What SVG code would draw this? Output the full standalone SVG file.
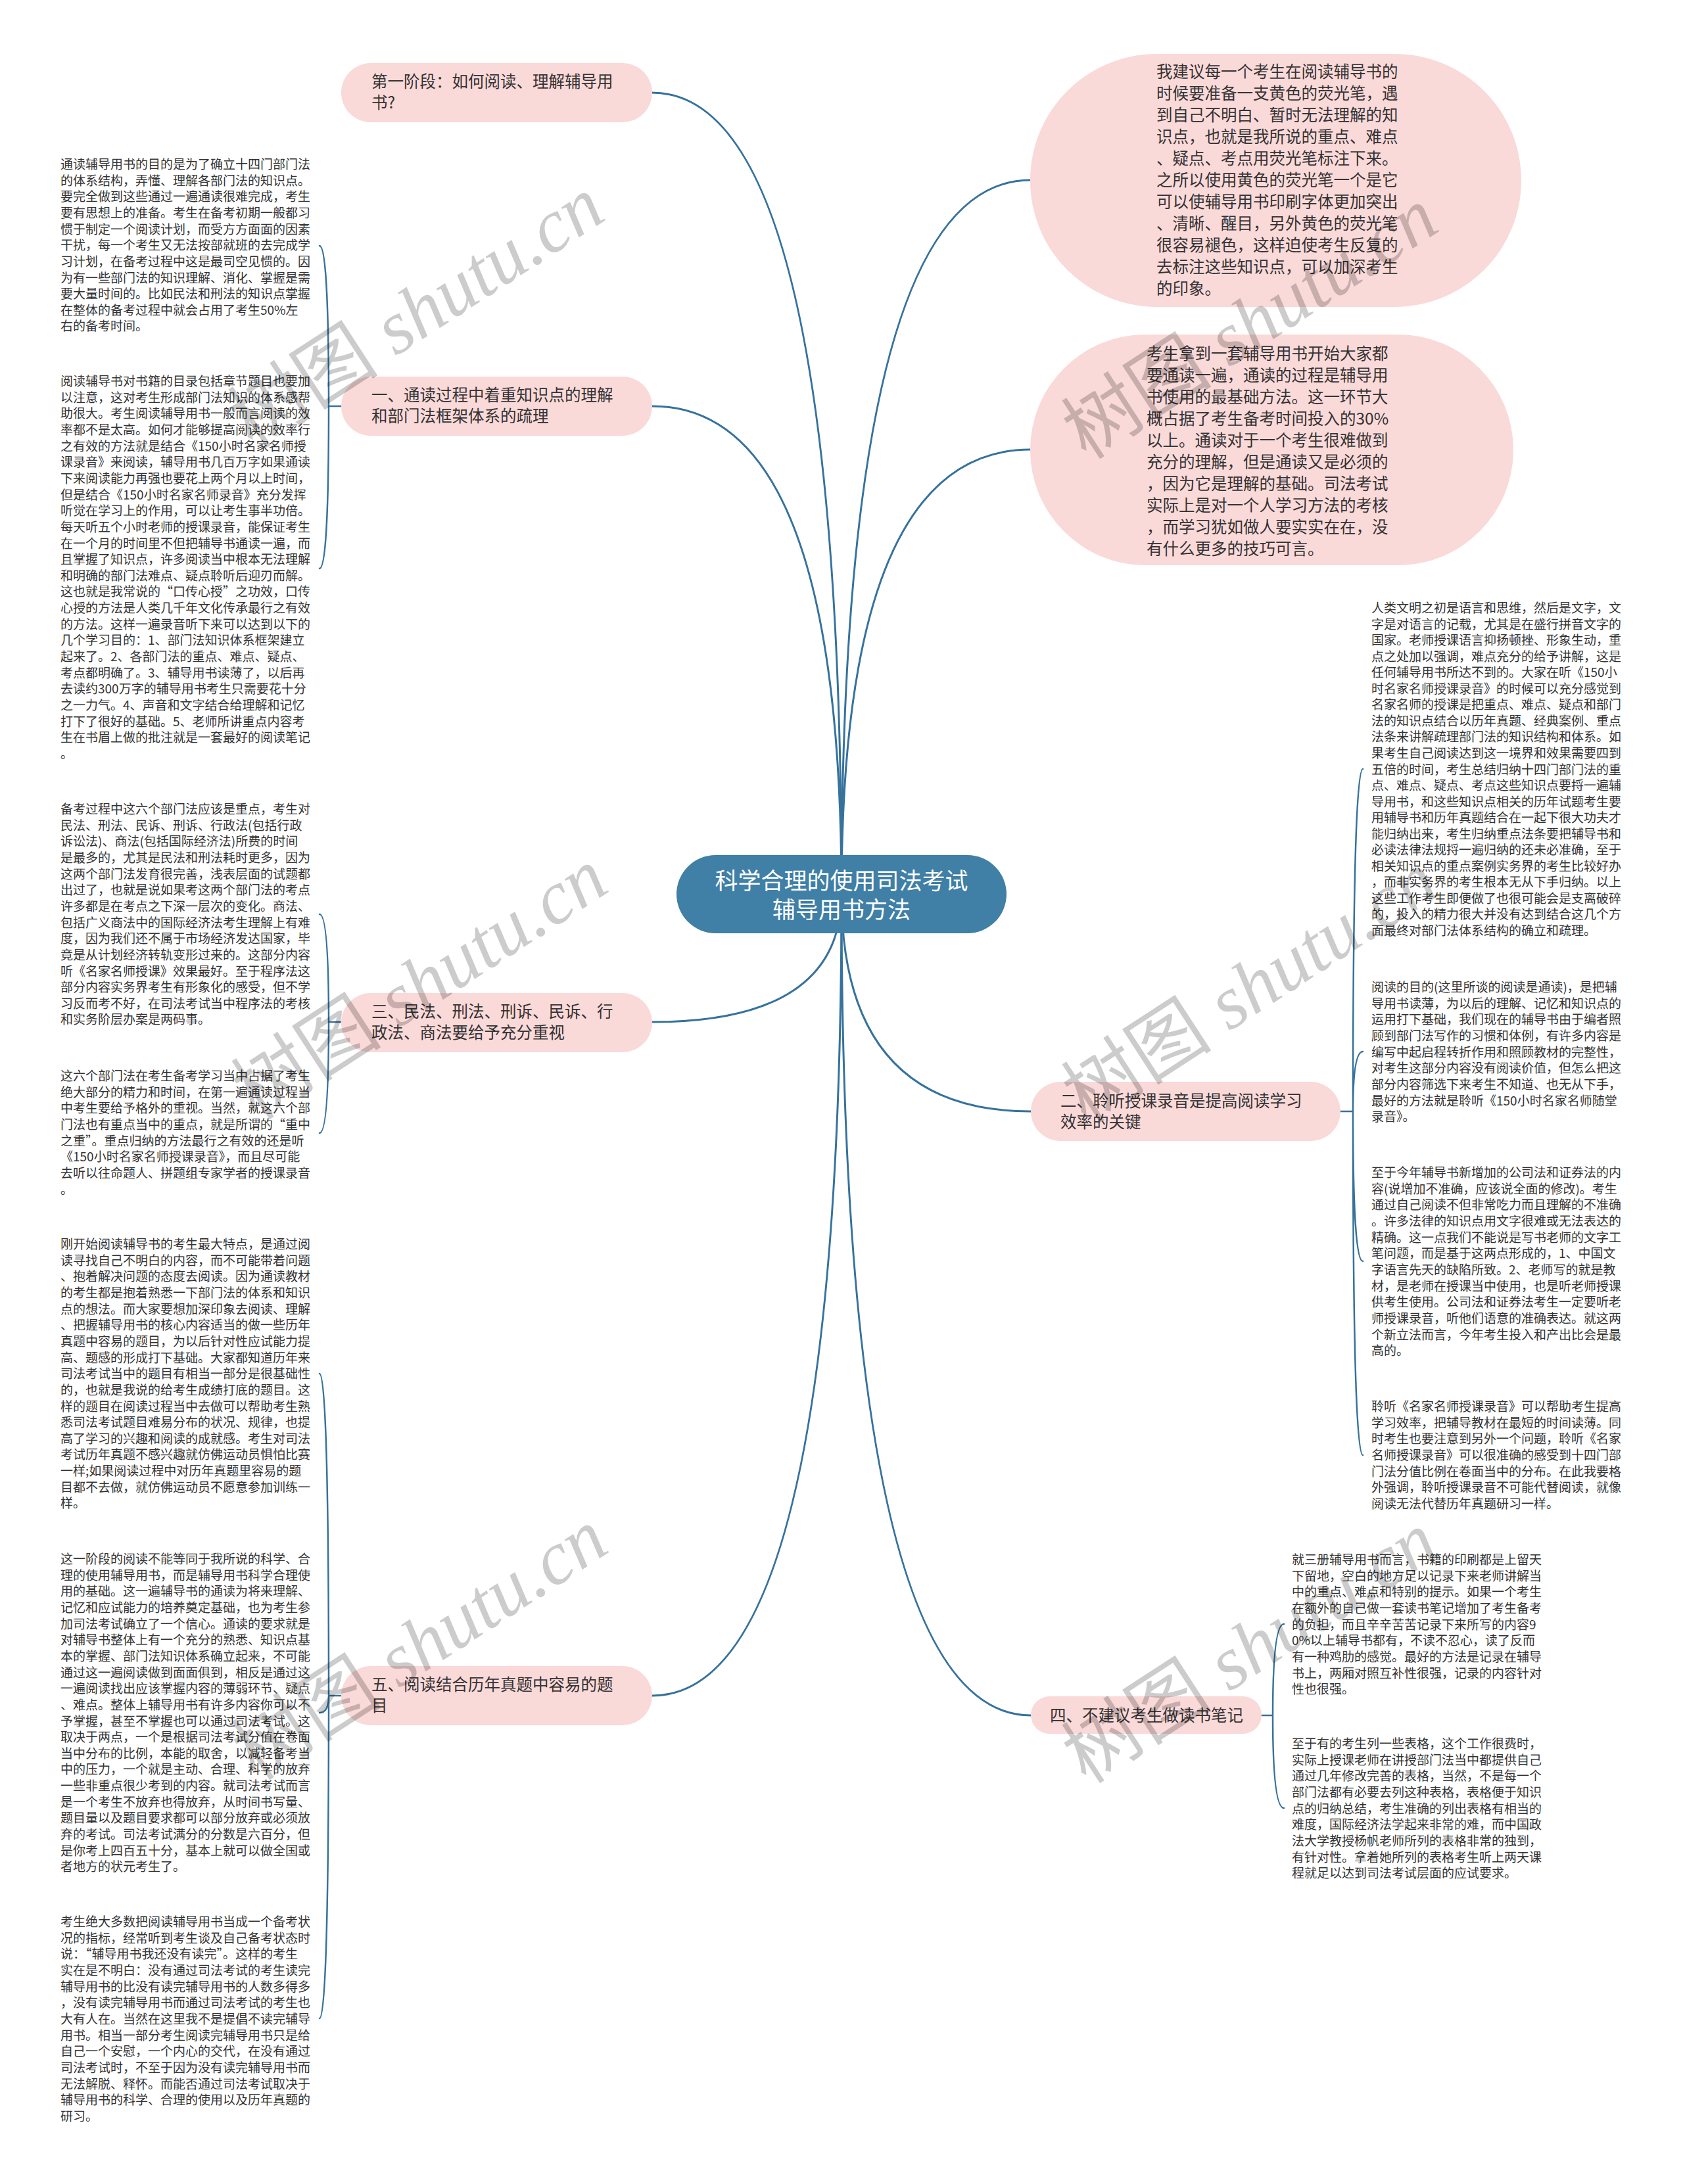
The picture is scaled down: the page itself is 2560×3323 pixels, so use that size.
<svg xmlns="http://www.w3.org/2000/svg" width="2560" height="3323" viewBox="0 0 2560 3323">
<defs>
<style>
.bg{fill:#ffffff}
.conn{fill:none;stroke:#36729c;stroke-width:3;stroke-linecap:round}
.brk{fill:none;stroke:#36729c;stroke-width:2.5;stroke-linecap:round}
.pill{fill:#fad9d9}
.root{fill:#407fa6}
.lbl{font-family:'Noto Sans CJK SC','Noto Sans',sans-serif;font-size:24.5px;fill:#333333}
.rootlbl{font-family:'Noto Sans CJK SC','Noto Sans',sans-serif;font-size:35px;fill:#ffffff;text-anchor:middle}
.leaf{font-family:'Noto Sans CJK SC','Noto Sans',sans-serif;font-size:19px;fill:#333333}
.wm{fill:#000000;fill-opacity:0.2;font-size:115px}
</style>
</defs>
<rect class="bg" x="0" y="0" width="2560" height="3323"/>

<g id="connectors">
<path class="conn" d="M1280,1360 Q1280,141 992,141"/>
<path class="conn" d="M1280,1360 Q1280,618 992,618"/>
<path class="conn" d="M1280,1360 Q1280,1555 992,1555"/>
<path class="conn" d="M1280,1360 Q1280,2580 992,2580"/>
<path class="conn" d="M1280,1360 Q1280,274 1567,274"/>
<path class="conn" d="M1280,1360 Q1280,684 1567,684"/>
<path class="conn" d="M1280,1360 Q1280,1691 1568,1691"/>
<path class="conn" d="M1280,1360 Q1280,2610 1568,2610"/>
<path class="brk" d="M519,618 L500,618 M500,618 Q500,374 486,374 M500,618 Q500,865 486,865"/>
<path class="brk" d="M519,1555 L500,1555 M500,1555 Q500,1391 486,1391 M500,1555 Q500,1724 486,1724"/>
<path class="brk" d="M519,2580 L500,2580 M500,2580 Q500,2090 486,2090 M500,2580 Q500,2606 486,2606 M500,2580 Q500,3071 486,3071"/>
<path class="brk" d="M2039,1691 L2058,1691 M2058,1691 Q2058,1170 2073,1170 M2058,1691 Q2058,1600 2073,1600 M2058,1691 Q2058,1919 2073,1919 M2058,1691 Q2058,2214 2073,2214"/>
<path class="brk" d="M1919,2610 L1936,2610 M1936,2610 Q1936,2471 1953,2471 M1936,2610 Q1936,2751 1953,2751"/>
</g>

<g id="root">
<rect class="root" x="1029" y="1301" width="502" height="119" rx="59.5"/>
<text class="rootlbl" x="1280" y="1353">科学合理的使用司法考试<tspan x="1280" dy="44">辅导用书方法</tspan></text>
</g>

<g id="n-stage1">
<rect class="pill" x="519" y="96" width="473" height="90" rx="45"/>
<text class="lbl" x="565" y="133">第一阶段：如何阅读、理解辅导用<tspan x="565" dy="32">书?</tspan></text>
</g>

<g id="n-one">
<rect class="pill" x="519" y="573" width="473" height="90" rx="45"/>
<text class="lbl" x="565" y="610">一、通读过程中着重知识点的理解<tspan x="565" dy="32">和部门法框架体系的疏理</tspan></text>
</g>

<g id="n-three">
<rect class="pill" x="519" y="1511" width="473" height="90" rx="45"/>
<text class="lbl" x="565" y="1548">三、民法、刑法、刑诉、民诉、行<tspan x="565" dy="32">政法、商法要给予充分重视</tspan></text>
</g>

<g id="n-five">
<rect class="pill" x="519" y="2535" width="473" height="90" rx="45"/>
<text class="lbl" x="565" y="2572">五、阅读结合历年真题中容易的题<tspan x="565" dy="32">目</tspan></text>
</g>

<g id="n-two">
<rect class="pill" x="1568" y="1646" width="471" height="90" rx="45"/>
<text class="lbl" x="1613" y="1684">二、聆听授课录音是提高阅读学习<tspan x="1613" dy="32">效率的关键</tspan></text>
</g>

<g id="n-four">
<rect class="pill" x="1568" y="2581" width="351" height="57" rx="28.5"/>
<text class="lbl" x="1597" y="2619">四、不建议考生做读书笔记</text>
</g>

<g id="n-highlighter">
<rect class="pill" x="1567" y="82" width="747" height="385" rx="192.5"/>
<text class="lbl" x="1759" y="118">我建议每一个考生在阅读辅导书的<tspan x="1759" dy="33">时候要准备一支黄色的荧光笔，遇</tspan><tspan x="1759" dy="33">到自己不明白、暂时无法理解的知</tspan><tspan x="1759" dy="33">识点，也就是我所说的重点、难点</tspan><tspan x="1759" dy="33">、疑点、考点用荧光笔标注下来。</tspan><tspan x="1759" dy="33">之所以使用黄色的荧光笔一个是它</tspan><tspan x="1759" dy="33">可以使辅导用书印刷字体更加突出</tspan><tspan x="1759" dy="33">、清晰、醒目，另外黄色的荧光笔</tspan><tspan x="1759" dy="33">很容易褪色，这样迫使考生反复的</tspan><tspan x="1759" dy="33">去标注这些知识点，可以加深考生</tspan><tspan x="1759" dy="33">的印象。</tspan></text>
</g>

<g id="n-readthrough">
<rect class="pill" x="1567" y="509" width="735" height="351" rx="175.5"/>
<text class="lbl" x="1744" y="547">考生拿到一套辅导用书开始大家都<tspan x="1744" dy="33">要通读一遍，通读的过程是辅导用</tspan><tspan x="1744" dy="33">书使用的最基础方法。这一环节大</tspan><tspan x="1744" dy="33">概占据了考生备考时间投入的30%</tspan><tspan x="1744" dy="33">以上。通读对于一个考生很难做到</tspan><tspan x="1744" dy="33">充分的理解，但是通读又是必须的</tspan><tspan x="1744" dy="33">，因为它是理解的基础。司法考试</tspan><tspan x="1744" dy="33">实际上是对一个人学习方法的考核</tspan><tspan x="1744" dy="33">，而学习犹如做人要实实在在，没</tspan><tspan x="1744" dy="33">有什么更多的技巧可言。</tspan></text>
</g>

<g id="leaf-1">
<text class="leaf" x="92" y="257">通读辅导用书的目的是为了确立十四门部门法<tspan x="92" dy="24.65">的体系结构，弄懂、理解各部门法的知识点。</tspan><tspan x="92" dy="24.65">要完全做到这些通过一遍通读很难完成，考生</tspan><tspan x="92" dy="24.65">要有思想上的准备。考生在备考初期一般都习</tspan><tspan x="92" dy="24.65">惯于制定一个阅读计划，而受方方面面的因素</tspan><tspan x="92" dy="24.65">干扰，每一个考生又无法按部就班的去完成学</tspan><tspan x="92" dy="24.65">习计划，在备考过程中这是最司空见惯的。因</tspan><tspan x="92" dy="24.65">为有一些部门法的知识理解、消化、掌握是需</tspan><tspan x="92" dy="24.65">要大量时间的。比如民法和刑法的知识点掌握</tspan><tspan x="92" dy="24.65">在整体的备考过程中就会占用了考生50%左</tspan><tspan x="92" dy="24.65">右的备考时间。</tspan></text>
</g>

<g id="leaf-2">
<text class="leaf" x="92" y="587">阅读辅导书对书籍的目录包括章节题目也要加<tspan x="92" dy="24.65">以注意，这对考生形成部门法知识的体系感帮</tspan><tspan x="92" dy="24.65">助很大。考生阅读辅导用书一般而言阅读的效</tspan><tspan x="92" dy="24.65">率都不是太高。如何才能够提高阅读的效率行</tspan><tspan x="92" dy="24.65">之有效的方法就是结合《150小时名家名师授</tspan><tspan x="92" dy="24.65">课录音》来阅读，辅导用书几百万字如果通读</tspan><tspan x="92" dy="24.65">下来阅读能力再强也要花上两个月以上时间，</tspan><tspan x="92" dy="24.65">但是结合《150小时名家名师录音》充分发挥</tspan><tspan x="92" dy="24.65">听觉在学习上的作用，可以让考生事半功倍。</tspan><tspan x="92" dy="24.65">每天听五个小时老师的授课录音，能保证考生</tspan><tspan x="92" dy="24.65">在一个月的时间里不但把辅导书通读一遍，而</tspan><tspan x="92" dy="24.65">且掌握了知识点，许多阅读当中根本无法理解</tspan><tspan x="92" dy="24.65">和明确的部门法难点、疑点聆听后迎刃而解。</tspan><tspan x="92" dy="24.65">这也就是我常说的“口传心授”之功效，口传</tspan><tspan x="92" dy="24.65">心授的方法是人类几千年文化传承最行之有效</tspan><tspan x="92" dy="24.65">的方法。这样一遍录音听下来可以达到以下的</tspan><tspan x="92" dy="24.65">几个学习目的：1、部门法知识体系框架建立</tspan><tspan x="92" dy="24.65">起来了。2、各部门法的重点、难点、疑点、</tspan><tspan x="92" dy="24.65">考点都明确了。3、辅导用书读薄了，以后再</tspan><tspan x="92" dy="24.65">去读约300万字的辅导用书考生只需要花十分</tspan><tspan x="92" dy="24.65">之一力气。4、声音和文字结合给理解和记忆</tspan><tspan x="92" dy="24.65">打下了很好的基础。5、老师所讲重点内容考</tspan><tspan x="92" dy="24.65">生在书眉上做的批注就是一套最好的阅读笔记</tspan><tspan x="92" dy="24.65">。</tspan></text>
</g>

<g id="leaf-3">
<text class="leaf" x="92" y="1238">备考过程中这六个部门法应该是重点，考生对<tspan x="92" dy="24.65">民法、刑法、民诉、刑诉、行政法(包括行政</tspan><tspan x="92" dy="24.65">诉讼法)、商法(包括国际经济法)所费的时间</tspan><tspan x="92" dy="24.65">是最多的，尤其是民法和刑法耗时更多，因为</tspan><tspan x="92" dy="24.65">这两个部门法发育很完善，浅表层面的试题都</tspan><tspan x="92" dy="24.65">出过了，也就是说如果考这两个部门法的考点</tspan><tspan x="92" dy="24.65">许多都是在考点之下深一层次的变化。商法、</tspan><tspan x="92" dy="24.65">包括广义商法中的国际经济法考生理解上有难</tspan><tspan x="92" dy="24.65">度，因为我们还不属于市场经济发达国家，毕</tspan><tspan x="92" dy="24.65">竟是从计划经济转轨变形过来的。这部分内容</tspan><tspan x="92" dy="24.65">听《名家名师授课》效果最好。至于程序法这</tspan><tspan x="92" dy="24.65">部分内容实务界考生有形象化的感受，但不学</tspan><tspan x="92" dy="24.65">习反而考不好，在司法考试当中程序法的考核</tspan><tspan x="92" dy="24.65">和实务阶层办案是两码事。</tspan></text>
</g>

<g id="leaf-4">
<text class="leaf" x="92" y="1644">这六个部门法在考生备考学习当中占据了考生<tspan x="92" dy="24.65">绝大部分的精力和时间，在第一遍通读过程当</tspan><tspan x="92" dy="24.65">中考生要给予格外的重视。当然，就这六个部</tspan><tspan x="92" dy="24.65">门法也有重点当中的重点，就是所谓的“重中</tspan><tspan x="92" dy="24.65">之重”。重点归纳的方法最行之有效的还是听</tspan><tspan x="92" dy="24.65">《150小时名家名师授课录音》，而且尽可能</tspan><tspan x="92" dy="24.65">去听以往命题人、拼题组专家学者的授课录音</tspan><tspan x="92" dy="24.65">。</tspan></text>
</g>

<g id="leaf-5">
<text class="leaf" x="92" y="1900">刚开始阅读辅导书的考生最大特点，是通过阅<tspan x="92" dy="24.65">读寻找自己不明白的内容，而不可能带着问题</tspan><tspan x="92" dy="24.65">、抱着解决问题的态度去阅读。因为通读教材</tspan><tspan x="92" dy="24.65">的考生都是抱着熟悉一下部门法的体系和知识</tspan><tspan x="92" dy="24.65">点的想法。而大家要想加深印象去阅读、理解</tspan><tspan x="92" dy="24.65">、把握辅导用书的核心内容适当的做一些历年</tspan><tspan x="92" dy="24.65">真题中容易的题目，为以后针对性应试能力提</tspan><tspan x="92" dy="24.65">高、题感的形成打下基础。大家都知道历年来</tspan><tspan x="92" dy="24.65">司法考试当中的题目有相当一部分是很基础性</tspan><tspan x="92" dy="24.65">的，也就是我说的给考生成绩打底的题目。这</tspan><tspan x="92" dy="24.65">样的题目在阅读过程当中去做可以帮助考生熟</tspan><tspan x="92" dy="24.65">悉司法考试题目难易分布的状况、规律，也提</tspan><tspan x="92" dy="24.65">高了学习的兴趣和阅读的成就感。考生对司法</tspan><tspan x="92" dy="24.65">考试历年真题不感兴趣就仿佛运动员惧怕比赛</tspan><tspan x="92" dy="24.65">一样;如果阅读过程中对历年真题里容易的题</tspan><tspan x="92" dy="24.65">目都不去做，就仿佛运动员不愿意参加训练一</tspan><tspan x="92" dy="24.65">样。</tspan></text>
</g>

<g id="leaf-6">
<text class="leaf" x="92" y="2379">这一阶段的阅读不能等同于我所说的科学、合<tspan x="92" dy="24.65">理的使用辅导用书，而是辅导用书科学合理使</tspan><tspan x="92" dy="24.65">用的基础。这一遍辅导书的通读为将来理解、</tspan><tspan x="92" dy="24.65">记忆和应试能力的培养奠定基础，也为考生参</tspan><tspan x="92" dy="24.65">加司法考试确立了一个信心。通读的要求就是</tspan><tspan x="92" dy="24.65">对辅导书整体上有一个充分的熟悉、知识点基</tspan><tspan x="92" dy="24.65">本的掌握、部门法知识体系确立起来，不可能</tspan><tspan x="92" dy="24.65">通过这一遍阅读做到面面俱到，相反是通过这</tspan><tspan x="92" dy="24.65">一遍阅读找出应该掌握内容的薄弱环节、疑点</tspan><tspan x="92" dy="24.65">、难点。整体上辅导用书有许多内容你可以不</tspan><tspan x="92" dy="24.65">予掌握，甚至不掌握也可以通过司法考试。这</tspan><tspan x="92" dy="24.65">取决于两点，一个是根据司法考试分值在卷面</tspan><tspan x="92" dy="24.65">当中分布的比例，本能的取舍，以减轻备考当</tspan><tspan x="92" dy="24.65">中的压力，一个就是主动、合理、科学的放弃</tspan><tspan x="92" dy="24.65">一些非重点很少考到的内容。就司法考试而言</tspan><tspan x="92" dy="24.65">是一个考生不放弃也得放弃，从时间书写量、</tspan><tspan x="92" dy="24.65">题目量以及题目要求都可以部分放弃或必须放</tspan><tspan x="92" dy="24.65">弃的考试。司法考试满分的分数是六百分，但</tspan><tspan x="92" dy="24.65">是你考上四百五十分，基本上就可以做全国或</tspan><tspan x="92" dy="24.65">者地方的状元考生了。</tspan></text>
</g>

<g id="leaf-7">
<text class="leaf" x="92" y="2931">考生绝大多数把阅读辅导用书当成一个备考状<tspan x="92" dy="24.65">况的指标，经常听到考生谈及自己备考状态时</tspan><tspan x="92" dy="24.65">说：“辅导用书我还没有读完”。这样的考生</tspan><tspan x="92" dy="24.65">实在是不明白：没有通过司法考试的考生读完</tspan><tspan x="92" dy="24.65">辅导用书的比没有读完辅导用书的人数多得多</tspan><tspan x="92" dy="24.65">，没有读完辅导用书而通过司法考试的考生也</tspan><tspan x="92" dy="24.65">大有人在。当然在这里我不是提倡不读完辅导</tspan><tspan x="92" dy="24.65">用书。相当一部分考生阅读完辅导用书只是给</tspan><tspan x="92" dy="24.65">自己一个安慰，一个内心的交代，在没有通过</tspan><tspan x="92" dy="24.65">司法考试时，不至于因为没有读完辅导用书而</tspan><tspan x="92" dy="24.65">无法解脱、释怀。而能否通过司法考试取决于</tspan><tspan x="92" dy="24.65">辅导用书的科学、合理的使用以及历年真题的</tspan><tspan x="92" dy="24.65">研习。</tspan></text>
</g>

<g id="leaf-r1">
<text class="leaf" x="2086" y="932">人类文明之初是语言和思维，然后是文字，文<tspan x="2086" dy="24.55">字是对语言的记载，尤其是在盛行拼音文字的</tspan><tspan x="2086" dy="24.55">国家。老师授课语言抑扬顿挫、形象生动，重</tspan><tspan x="2086" dy="24.55">点之处加以强调，难点充分的给予讲解，这是</tspan><tspan x="2086" dy="24.55">任何辅导用书所达不到的。大家在听《150小</tspan><tspan x="2086" dy="24.55">时名家名师授课录音》的时候可以充分感觉到</tspan><tspan x="2086" dy="24.55">名家名师的授课是把重点、难点、疑点和部门</tspan><tspan x="2086" dy="24.55">法的知识点结合以历年真题、经典案例、重点</tspan><tspan x="2086" dy="24.55">法条来讲解疏理部门法的知识结构和体系。如</tspan><tspan x="2086" dy="24.55">果考生自己阅读达到这一境界和效果需要四到</tspan><tspan x="2086" dy="24.55">五倍的时间，考生总结归纳十四门部门法的重</tspan><tspan x="2086" dy="24.55">点、难点、疑点、考点这些知识点要捋一遍辅</tspan><tspan x="2086" dy="24.55">导用书，和这些知识点相关的历年试题考生要</tspan><tspan x="2086" dy="24.55">用辅导书和历年真题结合在一起下很大功夫才</tspan><tspan x="2086" dy="24.55">能归纳出来，考生归纳重点法条要把辅导书和</tspan><tspan x="2086" dy="24.55">必读法律法规捋一遍归纳的还未必准确，至于</tspan><tspan x="2086" dy="24.55">相关知识点的重点案例实务界的考生比较好办</tspan><tspan x="2086" dy="24.55">，而非实务界的考生根本无从下手归纳。以上</tspan><tspan x="2086" dy="24.55">这些工作考生即便做了也很可能会是支离破碎</tspan><tspan x="2086" dy="24.55">的，投入的精力很大并没有达到结合这几个方</tspan><tspan x="2086" dy="24.55">面最终对部门法体系结构的确立和疏理。</tspan></text>
</g>

<g id="leaf-r2">
<text class="leaf" x="2086" y="1509">阅读的目的(这里所谈的阅读是通读)，是把辅<tspan x="2086" dy="24.65">导用书读薄，为以后的理解、记忆和知识点的</tspan><tspan x="2086" dy="24.65">运用打下基础，我们现在的辅导书由于编者照</tspan><tspan x="2086" dy="24.65">顾到部门法写作的习惯和体例，有许多内容是</tspan><tspan x="2086" dy="24.65">编写中起启程转折作用和照顾教材的完整性，</tspan><tspan x="2086" dy="24.65">对考生这部分内容没有阅读价值，但怎么把这</tspan><tspan x="2086" dy="24.65">部分内容筛选下来考生不知道、也无从下手，</tspan><tspan x="2086" dy="24.65">最好的方法就是聆听《150小时名家名师随堂</tspan><tspan x="2086" dy="24.65">录音》。</tspan></text>
</g>

<g id="leaf-r3">
<text class="leaf" x="2086" y="1791">至于今年辅导书新增加的公司法和证券法的内<tspan x="2086" dy="24.65">容(说增加不准确，应该说全面的修改)。考生</tspan><tspan x="2086" dy="24.65">通过自己阅读不但非常吃力而且理解的不准确</tspan><tspan x="2086" dy="24.65">。许多法律的知识点用文字很难或无法表达的</tspan><tspan x="2086" dy="24.65">精确。这一点我们不能说是写书老师的文字工</tspan><tspan x="2086" dy="24.65">笔问题，而是基于这两点形成的，1、中国文</tspan><tspan x="2086" dy="24.65">字语言先天的缺陷所致。2、老师写的就是教</tspan><tspan x="2086" dy="24.65">材，是老师在授课当中使用，也是听老师授课</tspan><tspan x="2086" dy="24.65">供考生使用。公司法和证券法考生一定要听老</tspan><tspan x="2086" dy="24.65">师授课录音，听他们语意的准确表达。就这两</tspan><tspan x="2086" dy="24.65">个新立法而言，今年考生投入和产出比会是最</tspan><tspan x="2086" dy="24.65">高的。</tspan></text>
</g>

<g id="leaf-r4">
<text class="leaf" x="2086" y="2147">聆听《名家名师授课录音》可以帮助考生提高<tspan x="2086" dy="24.65">学习效率，把辅导教材在最短的时间读薄。同</tspan><tspan x="2086" dy="24.65">时考生也要注意到另外一个问题，聆听《名家</tspan><tspan x="2086" dy="24.65">名师授课录音》可以很准确的感受到十四门部</tspan><tspan x="2086" dy="24.65">门法分值比例在卷面当中的分布。在此我要格</tspan><tspan x="2086" dy="24.65">外强调，聆听授课录音不可能代替阅读，就像</tspan><tspan x="2086" dy="24.65">阅读无法代替历年真题研习一样。</tspan></text>
</g>

<g id="leaf-r5">
<text class="leaf" x="1965" y="2380">就三册辅导用书而言，书籍的印刷都是上留天<tspan x="1965" dy="24.65">下留地，空白的地方足以记录下来老师讲解当</tspan><tspan x="1965" dy="24.65">中的重点、难点和特别的提示。如果一个考生</tspan><tspan x="1965" dy="24.65">在额外的自己做一套读书笔记增加了考生备考</tspan><tspan x="1965" dy="24.65">的负担，而且辛辛苦苦记录下来所写的内容9</tspan><tspan x="1965" dy="24.65">0%以上辅导书都有，不读不忍心，读了反而</tspan><tspan x="1965" dy="24.65">有一种鸡肋的感觉。最好的方法是记录在辅导</tspan><tspan x="1965" dy="24.65">书上，两厢对照互补性很强，记录的内容针对</tspan><tspan x="1965" dy="24.65">性也很强。</tspan></text>
</g>

<g id="leaf-r6">
<text class="leaf" x="1965" y="2660">至于有的考生列一些表格，这个工作很费时，<tspan x="1965" dy="24.65">实际上授课老师在讲授部门法当中都提供自己</tspan><tspan x="1965" dy="24.65">通过几年修改完善的表格，当然，不是每一个</tspan><tspan x="1965" dy="24.65">部门法都有必要去列这种表格，表格便于知识</tspan><tspan x="1965" dy="24.65">点的归纳总结，考生准确的列出表格有相当的</tspan><tspan x="1965" dy="24.65">难度，国际经济法学起来非常的难，而中国政</tspan><tspan x="1965" dy="24.65">法大学教授杨帆老师所列的表格非常的独到，</tspan><tspan x="1965" dy="24.65">有针对性。拿着她所列的表格考生听上两天课</tspan><tspan x="1965" dy="24.65">程就足以达到司法考试层面的应试要求。</tspan></text>
</g>

<g id="watermarks" class="wm">
<text transform="translate(655,508) rotate(-33)" text-anchor="middle"><tspan font-family="'Noto Sans CJK SC',sans-serif">树图</tspan><tspan font-family="'Liberation Serif',serif" font-style="italic"> shutu.cn</tspan></text>
<text transform="translate(1923,525) rotate(-33)" text-anchor="middle"><tspan font-family="'Noto Sans CJK SC',sans-serif">树图</tspan><tspan font-family="'Liberation Serif',serif" font-style="italic"> shutu.cn</tspan></text>
<text transform="translate(660,1530) rotate(-33)" text-anchor="middle"><tspan font-family="'Noto Sans CJK SC',sans-serif">树图</tspan><tspan font-family="'Liberation Serif',serif" font-style="italic"> shutu.cn</tspan></text>
<text transform="translate(1923,1535) rotate(-33)" text-anchor="middle"><tspan font-family="'Noto Sans CJK SC',sans-serif">树图</tspan><tspan font-family="'Liberation Serif',serif" font-style="italic"> shutu.cn</tspan></text>
<text transform="translate(660,2535) rotate(-33)" text-anchor="middle"><tspan font-family="'Noto Sans CJK SC',sans-serif">树图</tspan><tspan font-family="'Liberation Serif',serif" font-style="italic"> shutu.cn</tspan></text>
<text transform="translate(1923,2540) rotate(-33)" text-anchor="middle"><tspan font-family="'Noto Sans CJK SC',sans-serif">树图</tspan><tspan font-family="'Liberation Serif',serif" font-style="italic"> shutu.cn</tspan></text>
</g>
</svg>
